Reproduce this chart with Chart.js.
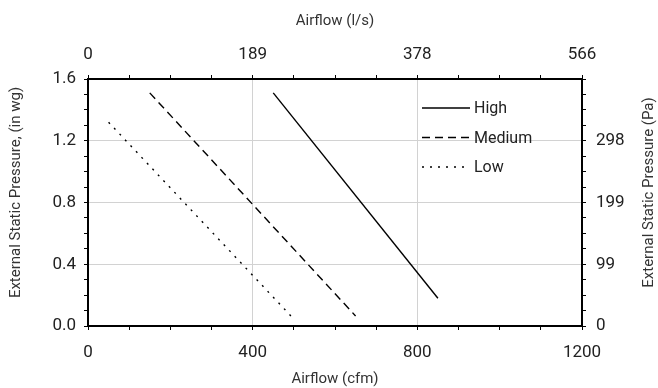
<!DOCTYPE html>
<html lang="en">
<head>
    <meta charset="UTF-8">
    <title>Airflow vs External Static Pressure</title>
    <style>
        html, body { margin: 0; padding: 0; background: #fff; }
        .chart-container { width: 658px; height: 388px; position: relative; }
    </style>
</head>
<body>
    <div class="chart-container">
        <canvas id="fanChart"></canvas>
    </div>

    <script src="https://cdn.jsdelivr.net/npm/chart.js@4.4.1/dist/chart.umd.js"></script>

    <script>
        // fan speed curves: airflow (cfm) vs external static pressure (in wg)
        const seriesNames = ['High', 'Medium', 'Low'];
        const highCfm = [450, 850];
        const highPressure = [1.51, 0.18];
        const mediumCfm = [150, 650];
        const mediumPressure = [1.51, 0.065];
        const lowCfm = [50, 500];
        const lowPressure = [1.32, 0.045];

        // tick labels
        const cfmLabels = ['0', '400', '800', '1200'];
        const lpsLabels = ['0', '189', '378', '566'];
        const inwgLabels = ['0.0', '0.4', '0.8', '1.2', '1.6'];
        const paLabels = ['0', '99', '199', '298', ''];

        const FONT = 'Roboto, "Liberation Sans", Arial, sans-serif';

        function toPoints(xs, ys) {
            return xs.map((x, i) => ({ x: x, y: ys[i] }));
        }

        // major ticks every 400 cfm / 0.4 in wg, minor every 100 / 0.1
        function xMajor(v) { return Math.round(v) % 400 === 0; }
        function yMajor(v) { return Math.round(v * 10) % 4 === 0; }

        const sideTitles = {
            id: 'sideTitles',
            afterDraw(chart) {
                const ctx = chart.ctx;
                const area = chart.chartArea;
                const midY = (area.top + area.bottom) / 2 - 10;
                ctx.save();
                ctx.font = '15px ' + FONT;
                ctx.fillStyle = '#333';
                ctx.textAlign = 'center';
                ctx.textBaseline = 'middle';
                ctx.translate(16, midY);
                ctx.rotate(-Math.PI / 2);
                ctx.fillText('External Static Pressure, (in wg)', 0, 0);
                ctx.restore();

                ctx.save();
                ctx.font = '15px ' + FONT;
                ctx.fillStyle = '#333';
                ctx.textAlign = 'center';
                ctx.textBaseline = 'middle';
                ctx.translate(chart.width - 9, midY);
                ctx.rotate(-Math.PI / 2);
                ctx.fillText('External Static Pressure (Pa)', 0, 0);
                ctx.restore();
            }
        };

        // legend drawn inside the plot, no box
        const insideLegend = {
            id: 'insideLegend',
            afterDraw(chart) {
                const ctx = chart.ctx;
                const area = chart.chartArea;
                const x0 = area.left + 334;
                let y = area.top + 29;
                chart.data.datasets.forEach(ds => {
                    ctx.save();
                    ctx.strokeStyle = ds.borderColor;
                    ctx.lineWidth = ds.borderWidth;
                    ctx.setLineDash(ds.borderDash || []);
                    ctx.beginPath();
                    ctx.moveTo(x0, y);
                    ctx.lineTo(x0 + 48, y);
                    ctx.stroke();
                    ctx.setLineDash([]);
                    ctx.font = '16px ' + FONT;
                    ctx.fillStyle = '#222';
                    ctx.textBaseline = 'middle';
                    ctx.fillText(ds.label, x0 + 52, y + 1);
                    ctx.restore();
                    y += 29.5;
                });
            }
        };

        const tickFont = { family: FONT, size: 17 };
        const titleFont = { family: FONT, size: 15 };

        new Chart(document.getElementById('fanChart'), {
            type: 'scatter',
            data: {
                datasets: [
                    { label: seriesNames[0], data: toPoints(highCfm, highPressure), borderDash: [] },
                    { label: seriesNames[1], data: toPoints(mediumCfm, mediumPressure), borderDash: [8, 5] },
                    { label: seriesNames[2], data: toPoints(lowCfm, lowPressure), borderDash: [2, 6] }
                ].map(ds => Object.assign(ds, {
                    showLine: true,
                    borderColor: '#000',
                    backgroundColor: '#000',
                    borderWidth: 1.4,
                    pointRadius: 0,
                    xAxisID: 'x',
                    yAxisID: 'y'
                }))
            },
            options: {
                responsive: true,
                maintainAspectRatio: false,
                animation: false,
                layout: { padding: 0 },
                plugins: {
                    legend: { display: false },
                    tooltip: { enabled: false }
                },
                scales: {
                    x: {
                        type: 'linear',
                        position: 'bottom',
                        min: 0, max: 1200,
                        afterFit(s) { s.height = 62; },
                        ticks: {
                            stepSize: 100, maxTicksLimit: 20, autoSkip: false, maxRotation: 0,
                            padding: 13, color: '#222', font: tickFont,
                            callback: v => xMajor(v) ? cfmLabels[Math.round(v / 400)] : ''
                        },
                        grid: {
                            color: c => (c.tick && xMajor(c.tick.value)) ? '#d2d2d2' : 'rgba(0,0,0,0)',
                            tickColor: '#000', tickLength: 4, lineWidth: 1
                        },
                        border: { color: '#000', width: 2 },
                        title: { display: true, text: 'Airflow (cfm)', color: '#333', font: titleFont, padding: { top: 2, bottom: 0 } }
                    },
                    x2: {
                        type: 'linear',
                        position: 'top',
                        min: 0, max: 1200,
                        afterFit(s) { s.height = 79; },
                        ticks: {
                            stepSize: 100, maxTicksLimit: 20, autoSkip: false, maxRotation: 0,
                            padding: 10, color: '#222', font: tickFont,
                            callback: v => xMajor(v) ? lpsLabels[Math.round(v / 400)] : ''
                        },
                        grid: { drawOnChartArea: false, tickColor: '#000', tickLength: 4 },
                        border: { color: '#000', width: 2 },
                        title: { display: true, text: 'Airflow (l/s)', color: '#333', font: titleFont, padding: { top: 12, bottom: 0 } }
                    },
                    y: {
                        type: 'linear',
                        position: 'left',
                        min: 0, max: 1.6,
                        afterFit(s) { s.width = 88; },
                        ticks: {
                            stepSize: 0.1, maxTicksLimit: 20, autoSkip: false,
                            padding: 8, color: '#222', font: tickFont,
                            callback: v => yMajor(v) ? inwgLabels[Math.round(v / 0.4)] : ''
                        },
                        grid: {
                            color: c => (c.tick && yMajor(c.tick.value)) ? '#d2d2d2' : 'rgba(0,0,0,0)',
                            tickColor: '#000', tickLength: 4, lineWidth: 1
                        },
                        border: { color: '#000', width: 2 }
                    },
                    y2: {
                        type: 'linear',
                        position: 'right',
                        min: 0, max: 1.6,
                        afterFit(s) { s.width = 76; },
                        ticks: {
                            stepSize: 0.1, maxTicksLimit: 20, autoSkip: false,
                            padding: 10, color: '#222', font: tickFont,
                            callback: v => yMajor(v) ? paLabels[Math.round(v / 0.4)] : ''
                        },
                        grid: { drawOnChartArea: false, tickColor: '#000', tickLength: 4 },
                        border: { color: '#000', width: 2 }
                    }
                }
            },
            plugins: [sideTitles, insideLegend]
        });
    </script>
</body>
</html>
